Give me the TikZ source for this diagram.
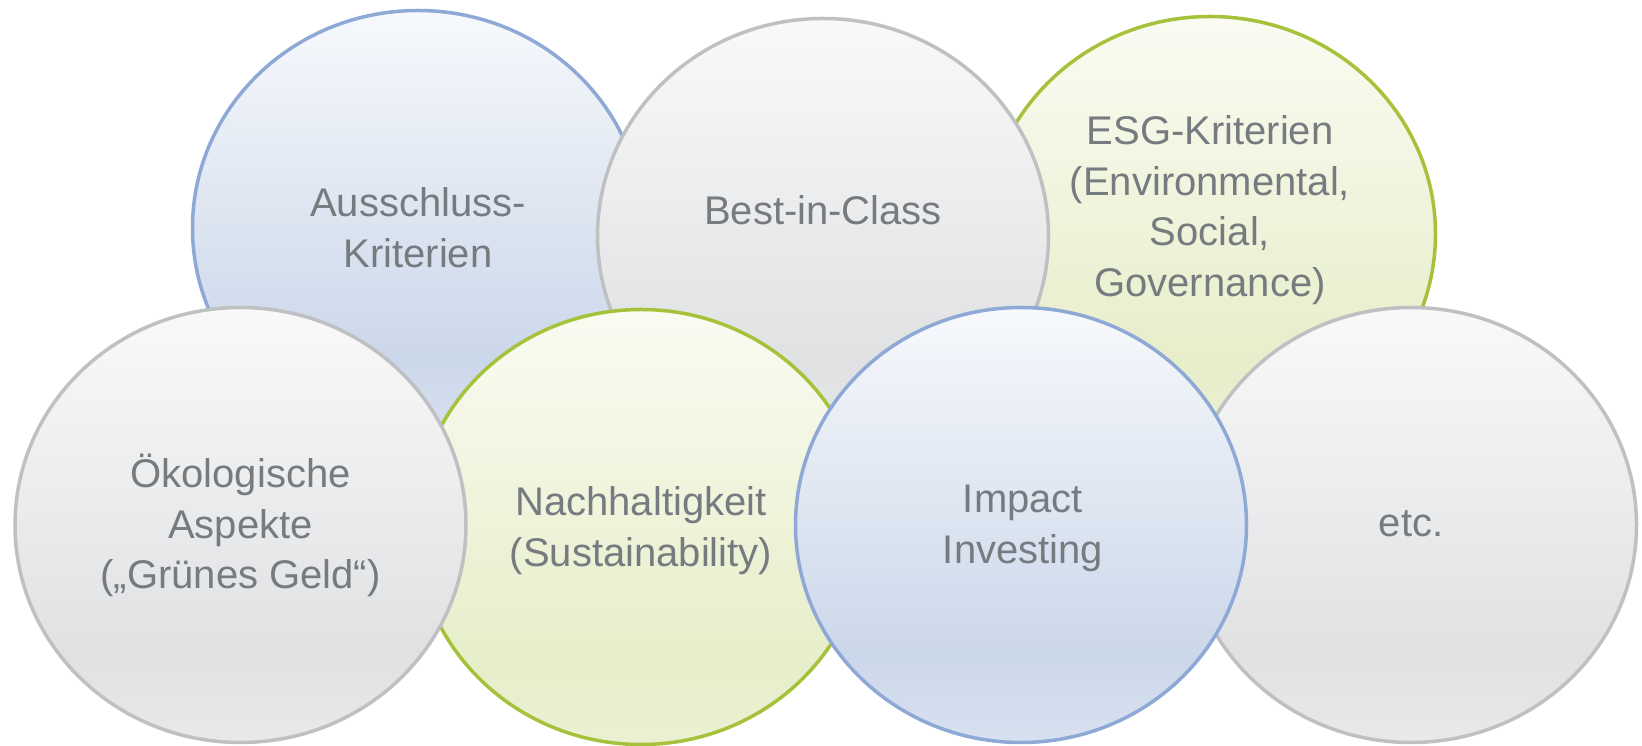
\documentclass[tikz,border=0pt]{standalone}
\usepackage{fontspec}
\setmainfont{Liberation Sans}
\usetikzlibrary{shapes.geometric}
\definecolor{txtgray}{HTML}{767B80}
\definecolor{bluedraw}{HTML}{8EA9D6}
\definecolor{greendraw}{HTML}{A5C23A}
\definecolor{graydraw}{HTML}{BFC0C2}
\definecolor{bB}{HTML}{D8E1F0}\definecolor{bM}{HTML}{CBD7EA}\definecolor{bT}{HTML}{F7F9FC}
\definecolor{gB}{HTML}{E9E9EA}\definecolor{gM}{HTML}{E0E1E3}\definecolor{gT}{HTML}{F9F9F9}
\definecolor{nB}{HTML}{EBF0D3}\definecolor{nM}{HTML}{E7EECA}\definecolor{nT}{HTML}{FAFBF2}
\pgfdeclareverticalshading{bshade}{100bp}{color(0bp)=(bB); color(25bp)=(bB); color(35bp)=(bM); color(75bp)=(bT); color(100bp)=(bT)}
\pgfdeclareverticalshading{gshade}{100bp}{color(0bp)=(gB); color(25bp)=(gB); color(35bp)=(gM); color(75bp)=(gT); color(100bp)=(gT)}
\pgfdeclareverticalshading{nshade}{100bp}{color(0bp)=(nB); color(25bp)=(nB); color(35bp)=(nM); color(75bp)=(nT); color(100bp)=(nT)}
\tikzset{
  bubble/.style={ellipse, minimum width=451pt, minimum height=435pt, inner sep=0pt, line width=3.5pt},
  bluebub/.style={bubble, draw=bluedraw, shading=bshade},
  graybub/.style={bubble, draw=graydraw, shading=gshade},
  greenbub/.style={bubble, draw=greendraw, shading=nshade},
  txt/.style={anchor=base, inner sep=0pt, text=txtgray, font=\fontsize{40}{50.5}\selectfont}
}
\newcommand{\lines}[1]{\begin{tabular}[t]{@{}c@{}}#1\end{tabular}}
\begin{document}
\begin{tikzpicture}[x=1pt,y=1pt]
\useasboundingbox (0,0) rectangle (1642,746);
% top row
\node[bluebub]  (cA) at (418,518) {};
\node[greenbub] (cC) at (1210,512) {};
\node[graybub]  (cB) at (823,510) {};
% bottom row
\node[greenbub] (cE) at (641,219) {};
\node[graybub]  (cD) at (240.5,221) {};
\node[graybub]  (cG) at (1411,221) {};
\node[bluebub]  (cF) at (1021,221) {};
% texts
\node[txt] (tA) at (418,529) {\lines{Ausschluss-\\Kriterien}};
\node[txt] (tB) at (823,521) {\lines{Best-in-Class}};
\node[txt] (tC) at (1210,601) {\lines{ESG-Kriterien\\(Environmental,\\Social,\\Governance)}};
\node[txt] (tD) at (240.5,258) {\lines{Ökologische\\Aspekte\\(„Grünes Geld“)}};
\node[txt] (tE) at (641,230) {\lines{Nachhaltigkeit\\(Sustainability)}};
\node[txt] (tF) at (1023,233) {\lines{Impact\\Investing}};
\node[txt] (tG) at (1411,209) {\lines{etc.}};
\end{tikzpicture}
\end{document}
